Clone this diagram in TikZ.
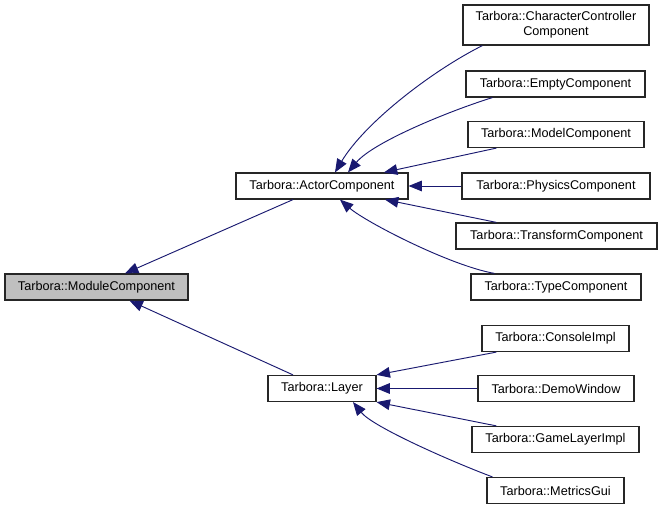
\documentclass[tikz,border=0pt]{standalone}
\usepackage{fontspec}
\setmainfont{Liberation Sans}
\usepackage{xcolor}
\usetikzlibrary{arrows.meta,calc}

\definecolor{azulnoche}{HTML}{191970}

\begin{document}
\begin{tikzpicture}[x=0.75pt,y=-0.75pt,
  clase/.style={draw=black!85,line width=0.9pt,inner sep=0pt,align=center,
                minimum height=19.5pt,font=\fontsize{9.5}{11.5}\selectfont},
  raiz/.style={clase,fill=black!25},
  ancho/.style={minimum width=#1*0.75pt},
  hereda/.style={-{Triangle[length=10pt,width=8pt]},line width=0.7pt,color=azulnoche}]

  \path[fill=white,use as bounding box] (0,0) rectangle (661,509);

  % clases base
  \node[raiz,ancho=183]  (mod)   at (96.5,287) {Tarbora::ModuleComponent};
  \node[clase,ancho=172] (actor) at (322,186)  {Tarbora::ActorComponent};
  \node[clase,ancho=108] (layer) at (322,388.5) {Tarbora::Layer};

  % componentes
  \node[clase,ancho=186,minimum height=30pt] (cc) at (556,25) {Tarbora::CharacterController\\Component};
  \node[clase,ancho=179] (empty) at (555.5,84)  {Tarbora::EmptyComponent};
  \node[clase,ancho=176] (model) at (556,134.5) {Tarbora::ModelComponent};
  \node[clase,ancho=188] (phys)  at (556,186)   {Tarbora::PhysicsComponent};
  \node[clase,ancho=201] (trans) at (556.5,236) {Tarbora::TransformComponent};
  \node[clase,ancho=170] (type)  at (556,287)   {Tarbora::TypeComponent};

  % capas
  \node[clase,ancho=147] (console) at (555.5,338.5) {Tarbora::ConsoleImpl};
  \node[clase,ancho=156] (demo)    at (556,388.5)   {Tarbora::DemoWindow};
  \node[clase,ancho=167] (game)    at (555.5,439.5) {Tarbora::GameLayerImpl};
  \node[clase,ancho=137] (metrics) at (555.5,490.5) {Tarbora::MetricsGui};

  \draw[hereda] ($(actor.south)+(-29,0)$) -- ($(mod.north)+(28.5,0)$);
  \draw[hereda] ($(layer.north)+(-29,0)$) -- ($(mod.south)+(33,0)$);

  \draw[hereda] ($(cc.south west)+(20,0)$) .. controls +(-50,25) and +(30,-50) .. ($(actor.north)+(13,0)$);
  \draw[hereda] ($(empty.south west)+(27,0)$) .. controls +(-45,14) and +(25,-30) .. ($(actor.north)+(26,0)$);
  \draw[hereda] ($(model.south west)+(29,0)$) -- ($(actor.north)+(62,0)$);
  \draw[hereda] (phys) -- (actor);
  \draw[hereda] ($(trans.north west)+(41,0)$) -- ($(actor.south)+(63,0)$);
  \draw[hereda] ($(type.north west)+(24,0)$) .. controls +(-45,-8) and +(25,22) .. ($(actor.south)+(18,0)$);

  \draw[hereda] ($(console.south west)+(15,0)$) -- (layer.north east);
  \draw[hereda] (demo) -- (layer);
  \draw[hereda] ($(game.north west)+(25,0)$) -- (layer.south east);
  \draw[hereda] ($(metrics.north west)+(6,0)$) .. controls +(-40,-15) and +(20,25) .. ($(layer.south)+(31,0)$);
\end{tikzpicture}
\end{document}
